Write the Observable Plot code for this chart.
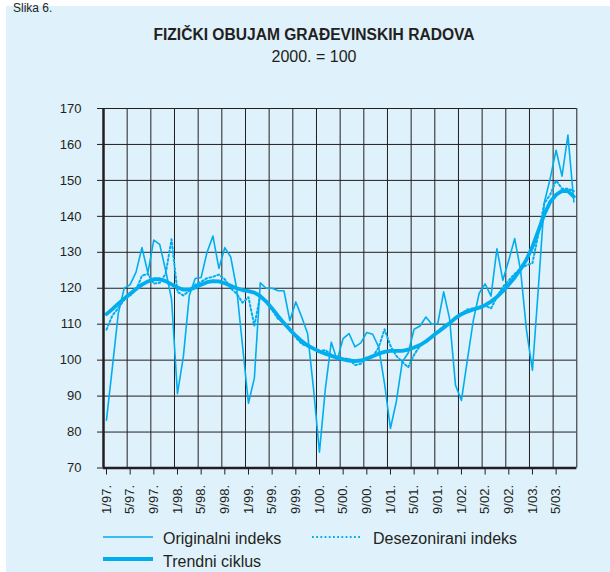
<!DOCTYPE html>
<html><head><meta charset="utf-8">
<script src="https://cdn.jsdelivr.net/npm/d3@7"></script>
<script src="https://cdn.jsdelivr.net/npm/@observablehq/plot@0.6"></script>
<style>
html,body{margin:0;padding:0;background:#fff;}
#page{position:relative;width:610px;height:572px;overflow:hidden;font-family:"Liberation Sans",Arial,Helvetica,sans-serif;color:#231f20;}
#box{position:absolute;left:6px;top:6px;right:0;bottom:0;background:#dff1fb;}
#slika{position:absolute;left:13px;top:1px;font-size:12px;line-height:14px;white-space:nowrap;}
#title{position:absolute;left:0;width:628px;top:26px;text-align:center;font-weight:bold;font-size:15.6px;line-height:18px;white-space:nowrap;}
#sub{position:absolute;left:0;width:628px;top:48px;text-align:center;font-size:16px;line-height:18px;white-space:nowrap;}
#chart{position:absolute;left:0;top:80px;}
.lg{position:absolute;font-size:16px;line-height:18px;white-space:nowrap;}
#lgsvg{position:absolute;left:0;top:520px;}
</style></head>
<body><div id="page">
<div id="box"></div>
<div id="slika">Slika 6.</div>
<div id="title">FIZIČKI OBUJAM GRAĐEVINSKIH RADOVA</div>
<div id="sub">2000. = 100</div>
<div id="chart"></div>
<svg id="lgsvg" width="610" height="52">
  <line x1="103" x2="153" y1="17" y2="17" stroke="#00aeef" stroke-width="1.6"/>
  <line x1="312" x2="362" y1="17" y2="17" stroke="#00aeef" stroke-width="2" stroke-dasharray="1.8,2.4"/>
  <line x1="103" x2="153" y1="39" y2="39" stroke="#00aeef" stroke-width="4"/>
</svg>
<div class="lg" style="left:163px;top:530px">Originalni indeks</div>
<div class="lg" style="left:373px;top:530px">Desezonirani indeks</div>
<div class="lg" style="left:163px;top:553px">Trendni ciklus</div>
</div>
<script>
const tickLabels = ["1/97.","5/97.","9/97.","1/98.","5/98.","9/98.","1/99.","5/99.","9/99.","1/00.","5/00.","9/00.","1/01.","5/01.","9/01.","1/02.","5/02.","9/02.","1/03.","5/03."];
const yTicks = [70,80,90,100,110,120,130,140,150,160,170];
const original = [
 83.3, 98, 113, 120, 121, 124.5, 131.3, 124.3, 133.4, 132.2, 125, 117,
 90.7, 101, 118, 122.7, 123, 130, 134.5, 125.5, 131.3, 128.7, 120, 104,
 88, 95, 121.5, 120, 120, 119.3, 119.3, 111, 116.2, 112, 107.4, 92,
 74.4, 92, 105, 100, 106, 107.4, 103.7, 104.8, 107.7, 107.2, 103.7, 93.5,
 81, 88.5, 99.5, 102, 108.6, 109.5, 112, 110, 110.2, 119, 111.5, 93,
 88.8, 100, 111, 118.6, 121.2, 117.8, 131, 122.2, 127.8, 133.8, 125, 108.3,
 97.2, 120, 143.8, 150.5, 158.4, 151.2, 162.6, 144];
const seasAdj = [
 108.5, 112.4, 114.5, 116.8, 118, 119.5, 123.5, 124, 121.3, 121.5, 124, 133.6,
 119, 118, 119.3, 121, 121.8, 122.8, 123.2, 123.8, 122.5, 120, 118.5, 116,
 117.5, 109.6, 118, 116.5, 114, 111.5, 110.5, 108.5, 106.3, 104.5, 103.8, 103.2,
 102.5, 102.8, 101.5, 100.8, 100.4, 100.4, 98.6, 99, 100.8, 101, 103.5, 108.6,
 104, 101.2, 99.5, 98, 101.5, 104, 105.5, 106.5, 108, 109.5, 110.5, 112,
 113, 114.1, 114.4, 114.8, 115.2, 114.4, 117.6, 120.4, 122.2, 124, 125.5, 126.4,
 127, 135, 143.6, 146, 150, 147.7, 147.7, 147];
const trend = [
 112.8, 114.2, 115.7, 117.1, 118.5, 119.8, 121, 121.9, 122.5, 122.5, 122, 121.1,
 120.2, 119.6, 119.6, 120.2, 121, 121.7, 122, 121.9, 121.4, 120.7, 120, 119.5,
 119.2, 118.8, 117.8, 116.3, 114.4, 112.3, 110.3, 108.5, 106.8, 105.3, 104.1, 103.2,
 102.4, 101.8, 101.2, 100.7, 100.2, 99.9, 99.7, 99.9, 100.4, 101.1, 101.8, 102.3,
 102.6, 102.6, 102.6, 102.9, 103.5, 104.2, 105.2, 106.5, 107.8, 109, 110.3, 111.7,
 112.8, 113.5, 114.1, 114.6, 115.3, 116.3, 117.6, 119.2, 121, 123, 125.3, 128,
 131.5, 136, 140.5, 144, 146, 147.1, 147, 145.5];

const data = original.map((v, i) => ({x: i + 0.5, orig: v, sa: seasAdj[i], trend: trend[i]}));
const tickPos = tickLabels.map((_, i) => i * 4);
const gridX = d3.range(0, 81, 4);
const ink = "#231f20", blue = "#00aeef";

const chart = Plot.plot({
  width: 610, height: 440,
  marginLeft: 103, marginRight: 33.7, marginTop: 28, marginBottom: 52.5,
  style: {background: "transparent", fontFamily: "'Liberation Sans', Arial, sans-serif", fontSize: "13px", color: ink, overflow: "visible"},
  x: {domain: [0, 80]},
  y: {domain: [70, 170]},
  marks: [
    Plot.ruleY(yTicks, {stroke: ink, strokeWidth: 1}),
    Plot.ruleX(gridX, {stroke: ink, strokeWidth: 1}),
    Plot.line(data, {x: "x", y: "orig", stroke: blue, strokeWidth: 1.6}),
    Plot.line(data, {x: "x", y: "sa", stroke: blue, strokeWidth: 2, strokeDasharray: "1.8,2.4"}),
    Plot.line(data, {x: "x", y: "trend", stroke: blue, strokeWidth: 3.8}),
    Plot.ruleY([70], {stroke: ink, strokeWidth: 2.5}),
    Plot.ruleX([0], {stroke: ink, strokeWidth: 2.5}),
    Plot.axisY({ticks: yTicks, tickSize: 6, tickPadding: 16, stroke: ink, fill: ink, fontSize: 13, label: null}),
    Plot.axisX({ticks: tickPos, tickSize: 7, tickPadding: 10, tickRotate: -90, stroke: ink, fill: ink, fontSize: 13,
      tickFormat: (d) => tickLabels[d / 4], dx: 3, label: null})
  ]
});
document.getElementById("chart").appendChild(chart);
</script>
</body></html>
